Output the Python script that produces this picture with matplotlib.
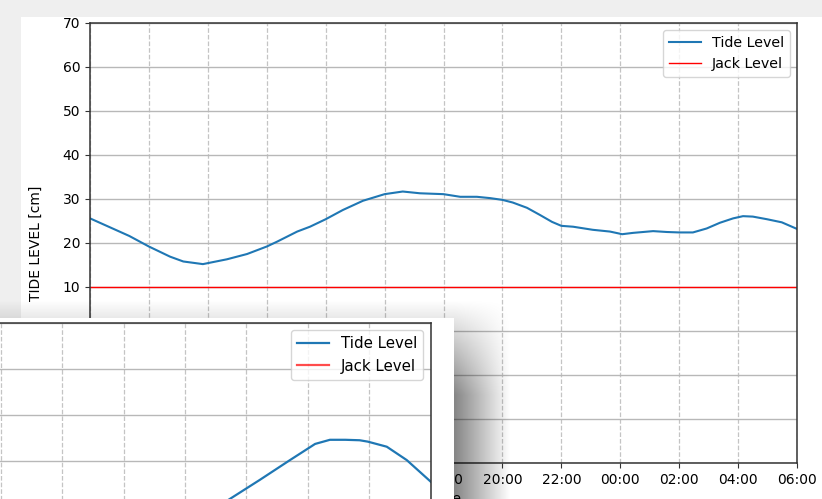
import numpy as np
import pandas as pd
import matplotlib
matplotlib.use("Agg")
import matplotlib.pyplot as plt
import matplotlib.dates as mdates
from matplotlib.patches import Rectangle

# ---------------- data ----------------
main_times = ["06:00", "06:40", "07:20", "08:00", "08:43", "09:10", "09:50", "10:39",
              "11:20", "12:00", "12:21", "13:02", "13:28", "14:00", "14:35", "15:16",
              "16:00", "16:37", "17:12", "18:00", "18:34", "19:08", "19:35", "20:00",
              "20:21", "20:50", "21:16", "21:41", "22:00", "22:24", "23:04", "23:39",
              "00:04", "00:26", "01:07", "01:35", "02:00", "02:28", "02:56", "03:23",
              "03:50", "04:10", "04:30", "04:59", "05:29", "06:00"]
main_tide = [25.6, 23.6, 21.6, 19.2, 16.9, 15.8, 15.2, 16.3,
             17.5, 19.2, 20.3, 22.6, 23.7, 25.4, 27.5, 29.6,
             31.1, 31.7, 31.3, 31.1, 30.5, 30.5, 30.2, 29.8,
             29.2, 28.0, 26.4, 24.8, 23.9, 23.7, 23.0, 22.6,
             22.0, 22.3, 22.7, 22.5, 22.4, 22.4, 23.3, 24.6,
             25.6, 26.1, 26.0, 25.4, 24.7, 23.2]
jack_level = 10

inset_times = ["08:29", "09:28", "10:26", "11:25", "12:14", "12:43", "13:13",
               "13:41", "13:57", "14:34", "15:13", "16:00"]
inset_tide = [27.6, 31.8, 35.9, 40.2, 43.7, 44.6, 44.6,
              44.5, 44.2, 43.1, 40.2, 35.5]

y_ticks = list(range(-30, 71, 10))


def to_dt(times, day0):
    out = []
    day = 0
    prev = None
    for t in times:
        h, m = map(int, t.split(":"))
        v = h * 60 + m
        if prev is not None and v < prev:
            day += 1
        prev = v
        out.append(pd.Timestamp(day0) + pd.Timedelta(days=day, minutes=v))
    return out


main_dt = to_dt(main_times, "2024-01-01")
inset_dt = to_dt(inset_times, "2024-01-05")

# ---------------- figure ----------------
W, H = 822, 499
fig = plt.figure(figsize=(W / 100, H / 100), dpi=100, facecolor="#efefef")


def frac(l, t, r, b):
    return [l / W, (H - b) / H, (r - l) / W, (b - t) / H]


# background: main window
ax_bg = fig.add_axes([0, 0, 1, 1], zorder=0)
ax_bg.set_xlim(0, W)
ax_bg.set_ylim(H, 0)
ax_bg.axis("off")
ax_bg.add_patch(Rectangle((21, 17), W - 21, H - 17, facecolor="white", edgecolor="none"))

# main axes
ax = fig.add_axes(frac(90, 23, 797, 463), zorder=1)
ax.set_facecolor("white")
ax.plot(main_dt, main_tide, color="#1f77b4", lw=1.5, label="Tide Level")
ax.axhline(jack_level, color="red", lw=1.0, label="Jack Level")
ax.set_xlim(pd.Timestamp("2024-01-01 06:00"), pd.Timestamp("2024-01-02 06:00"))
ax.set_ylim(-30, 70)
ax.set_yticks(y_ticks)
ax.xaxis.set_major_locator(mdates.HourLocator(byhour=range(0, 24, 2)))
ax.xaxis.set_major_formatter(mdates.DateFormatter("%H:%M"))
ax.grid(axis="y", color="#b8b8b8", lw=1.0, ls="-")
ax.grid(axis="x", color="#c4c4c4", lw=0.9, ls="--")
ax.set_ylabel("TIDE LEVEL [cm]", fontsize=10)
ax.yaxis.set_label_coords(-0.067, 0.5)
ax.set_xlabel("Time", fontsize=10)
ax.tick_params(labelsize=10, color="#333333")
for s in ax.spines.values():
    s.set_color("#333333")
    s.set_linewidth(1.1)
ax.legend(loc="upper right", fontsize=10.3, handlelength=2.2)

# overlay: shadow and inset window
ax_ov = fig.add_axes([0, 0, 1, 1], zorder=2)
ax_ov.set_xlim(0, W)
ax_ov.set_ylim(H, 0)
ax_ov.axis("off")
xs = np.arange(W) + 0.5
ys = np.arange(H) + 0.5
X, Y = np.meshgrid(xs, ys)
fx = np.where(X < 454, 1.0, np.clip((510 - X) / (510 - 454), 0, 1))
fy = np.clip((Y - 300) / (395 - 300), 0, 1)
alpha = 0.48 * fx * fy
rgba = np.zeros((H, W, 4))
rgba[..., 3] = alpha
ax_ov.imshow(rgba, extent=(0, W, H, 0), interpolation="bilinear", aspect="auto")
ax_ov.set_xlim(0, W)
ax_ov.set_ylim(H, 0)
ax_ov.add_patch(Rectangle((0, 318), 454, H - 318, facecolor="white", edgecolor="none"))

# inset window axes
ax2 = fig.add_axes(frac(-60.75, 322.7, 430.8, 322.7 + 461), zorder=3)
ax2.set_facecolor("white")
ax2.plot(inset_dt, inset_tide, color="#1f77b4", lw=1.6, label="Tide Level")
ax2.axhline(jack_level, color="red", lw=1.6, alpha=0.7, label="Jack Level")
ax2.set_xlim(pd.Timestamp("2024-01-05 00:00"), pd.Timestamp("2024-01-05 16:00"))
ax2.set_ylim(-30, 70)
ax2.set_yticks(y_ticks)
ax2.xaxis.set_major_locator(mdates.HourLocator(byhour=range(0, 24, 2)))
ax2.xaxis.set_major_formatter(mdates.DateFormatter("%H:%M"))
ax2.grid(axis="y", color="#b8b8b8", lw=1.0, ls="-")
ax2.grid(axis="x", color="#c4c4c4", lw=0.9, ls="--")
for s in ax2.spines.values():
    s.set_color("#333333")
    s.set_linewidth(1.1)
ax2.legend(loc="upper right", fontsize=10.8, handlelength=2.1)

fig.savefig("out.png", dpi=100, facecolor=fig.get_facecolor())
